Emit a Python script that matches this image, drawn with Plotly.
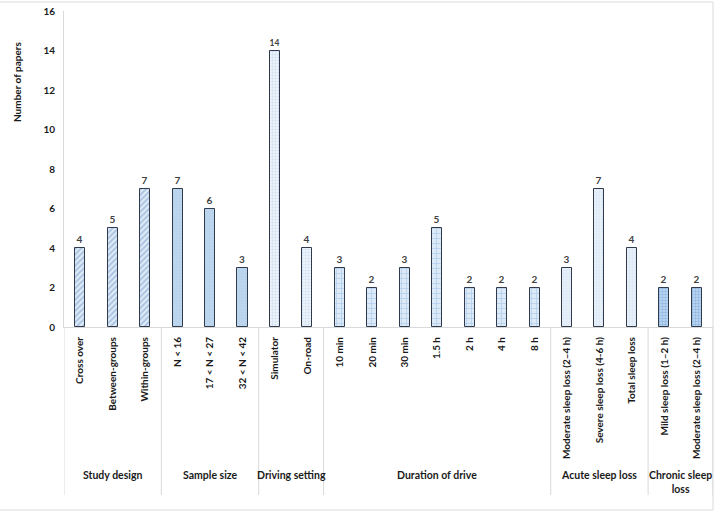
import plotly.graph_objects as go

categories = ["Cross over", "Between-groups", "Within-groups",
              "N < 16", "17 < N < 27", "32 < N < 42",
              "Simulator", "On-road",
              "10 min", "20 min", "30 min", "1.5 h", "2 h", "4 h", "8 h",
              "Moderate sleep loss (2–4 h)", "Severe sleep loss (4-6 h)", "Total sleep loss",
              "Mild sleep loss (1–2 h)", "Moderate sleep loss (2–4 h)"]
values = [4, 5, 7, 7, 6, 3, 14, 4, 3, 2, 3, 5, 2, 2, 2, 3, 7, 4, 2, 2]
groups = ["Study design", "Sample size", "Driving setting", "Duration of drive",
          "Acute sleep loss", "Chronic sleep<br>loss"]
group_sizes = [3, 3, 2, 7, 3, 2]

styles = [
    dict(bg="#DDEAF7", fg="#7297C8", shape="/", size=4, solidity=0.45),
    dict(bg="#BDD7EE", fg="#A9C8E8", shape=".", size=3, solidity=0.3),
    dict(bg="#EEF4FB", fg="#A9C5E6", shape=".", size=3, solidity=0.35),
    dict(bg="#DCE9F7", fg="#8DB4E2", shape="+", size=5, solidity=0.3),
    dict(bg="#E8F0F9", fg="#C5D9EF", shape=".", size=3, solidity=0.3),
    dict(bg="#C3DAF2", fg="#5F95D2", shape=".", size=3, solidity=0.5),
]

FONT = "Lato"
W, H = 716, 513
L, R, T, B = 64, 3, 11, 186
fig = go.Figure()
start = 0
for g, n, st in zip(groups, group_sizes, styles):
    xs = list(range(start, start + n))
    ys = values[start:start + n]
    fig.add_trace(go.Bar(
        x=xs, y=ys, width=0.31, name=g.replace("<br>", " "),
        text=[str(v) for v in ys], textposition="outside",
        textfont=dict(family=FONT, size=10, color="#404040", weight="bold"),
        cliponaxis=False,
        marker=dict(color=st["bg"],
                    line=dict(color="#2F3B4C", width=1),
                    pattern=dict(shape=st["shape"], fgcolor=st["fg"], bgcolor=st["bg"],
                                 size=st["size"], solidity=st["solidity"], fillmode="overlay")),
    ))
    start += n

ph = H - T - B
pw = W - L - R

def py(pix):
    return (H - B - pix) / ph

def px(pix):
    return (pix - L) / pw

shapes = []
annotations = []
bounds = [-0.5]
for n in group_sizes:
    bounds.append(bounds[-1] + n)
for b in bounds:
    shapes.append(dict(type="line", xref="x", yref="paper", x0=b, x1=b, y0=0, y1=py(495),
                       line=dict(color="#D9D9D9", width=1)))
for i, g in enumerate(groups):
    cx = (bounds[i] + bounds[i + 1]) / 2
    yl = py(475) if "<br>" not in g else py(482)
    annotations.append(dict(text=g, x=cx, y=yl, xref="x", yref="paper", showarrow=False,
                            yanchor="middle", font=dict(family=FONT, size=10.5, color="#1a1a1a", weight="bold")))
annotations.append(dict(text="Number of papers", x=px(17), y=py(82), xref="paper", yref="paper",
                        showarrow=False, textangle=-90, xanchor="center", yanchor="middle",
                        font=dict(family=FONT, size=10, color="#1a1a1a", weight="bold")))
shapes.append(dict(type="line", xref="paper", yref="paper", x0=px(0), x1=px(713), y0=py(2), y1=py(2),
                   line=dict(color="#D9D9D9", width=1)))
shapes.append(dict(type="line", xref="paper", yref="paper", x0=px(0), x1=px(713), y0=py(510), y1=py(510),
                   line=dict(color="#D9D9D9", width=1)))
shapes.append(dict(type="line", xref="paper", yref="paper", x0=px(713), x1=px(713), y0=py(2), y1=py(510),
                   line=dict(color="#D9D9D9", width=1)))

fig.update_layout(
    width=W, height=H,
    margin=dict(l=L, r=R, t=T, b=B, autoexpand=False),
    plot_bgcolor="white", paper_bgcolor="white",
    showlegend=False, bargap=0,
    shapes=shapes, annotations=annotations,
    xaxis=dict(range=[-0.5, 19.5], tickmode="array", tickvals=list(range(len(categories))),
               ticktext=categories, tickangle=-90, showgrid=False, zeroline=False,
               showline=True, linecolor="#D9D9D9", linewidth=1, ticks="", automargin=False,
               ticklabelstandoff=5,
               tickfont=dict(family=FONT, size=10, color="#1a1a1a", weight="bold")),
    yaxis=dict(range=[0, 16], dtick=2, showgrid=False, zeroline=False,
               showline=True, linecolor="#D9D9D9", linewidth=1, ticks="", automargin=False,
               ticklabelstandoff=6,
               tickfont=dict(family=FONT, size=10, color="#1a1a1a", weight="bold")),
)

fig.write_html("out.html", config={"displayModeBar": False},
               post_script="document.body.style.margin='0';document.body.style.overflow='hidden';")
